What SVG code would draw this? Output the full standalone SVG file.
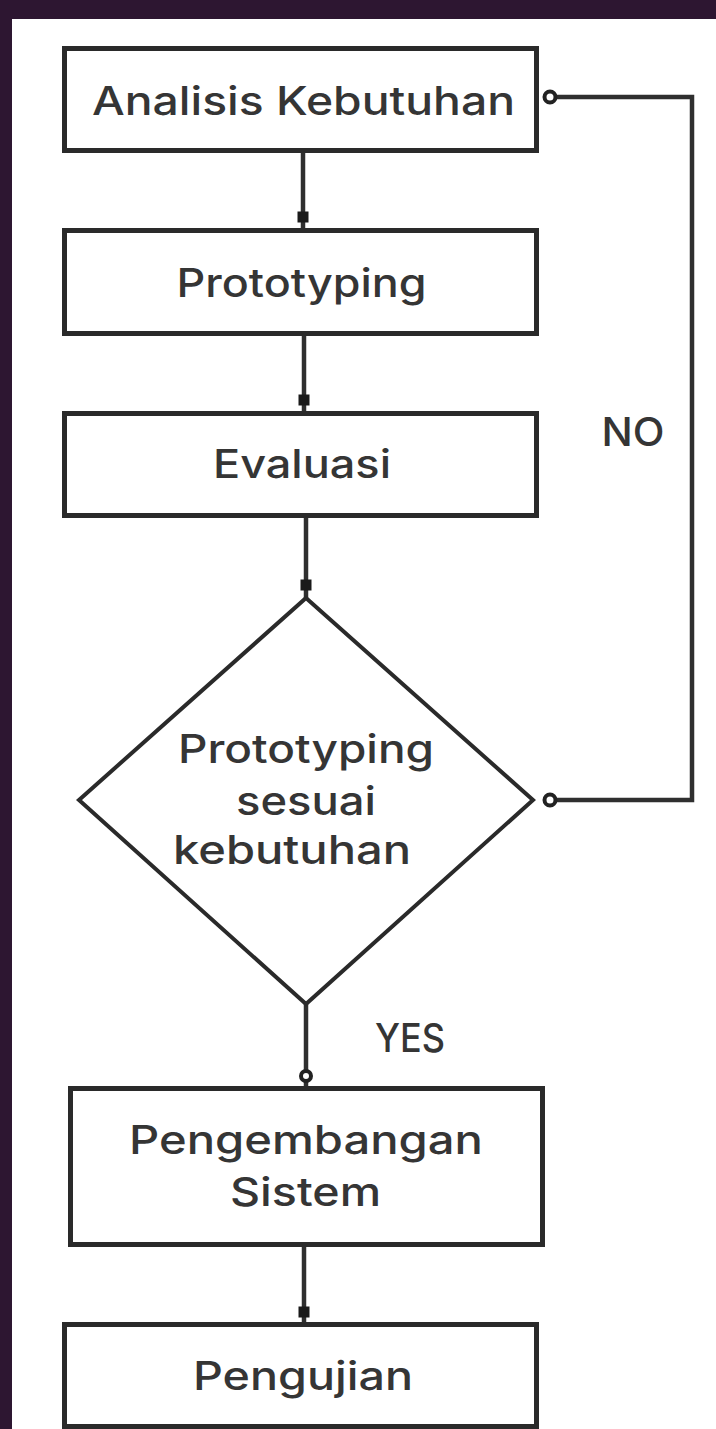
<svg xmlns="http://www.w3.org/2000/svg" width="716" height="1429" viewBox="0 0 716 1429">
<style>
.bg{fill:#2d1631}
.box{fill:#ffffff;stroke:#2a2a2a;stroke-width:5}
.dia{fill:#ffffff;stroke:#2a2a2a;stroke-width:4}
.ln{fill:none;stroke:#2f2f2f;stroke-width:4.5}
.sq{fill:#1a1a1a}
.ci{fill:#ffffff;stroke:#222222;stroke-width:4}
text{font-family:Inter,"Open Sans","Liberation Sans",sans-serif;font-size:39px;font-weight:500;fill:#353535;text-anchor:middle}
</style>
<rect x="0" y="0" width="716" height="1429" fill="#ffffff"/>
<rect class="bg" x="0" y="0" width="716" height="19"/>
<rect class="bg" x="0" y="0" width="12" height="1429"/>

<g id="connectors">
<line class="ln" x1="303" y1="151" x2="303" y2="230"/>
<rect class="sq" x="297.5" y="211.5" width="11" height="11"/>
<line class="ln" x1="304" y1="334" x2="304" y2="413"/>
<rect class="sq" x="298.5" y="394.5" width="11" height="11"/>
<line class="ln" x1="306" y1="517" x2="306" y2="598"/>
<rect class="sq" x="300.5" y="579.5" width="11" height="11"/>
<line class="ln" x1="306" y1="1004" x2="306" y2="1088"/>
<circle class="ci" cx="306" cy="1076" r="5"/>
<line class="ln" x1="304" y1="1246" x2="304" y2="1324"/>
<rect class="sq" x="298.5" y="1306.5" width="11" height="11"/>
<polyline class="ln" points="556,800 692,800 692,97 556,97"/>
<circle class="ci" cx="550" cy="800" r="5.5"/>
<circle class="ci" cx="550" cy="97" r="5.5"/>
<text x="633" y="446" textLength="63" lengthAdjust="spacingAndGlyphs">NO</text>
<text x="410" y="1052" textLength="70" lengthAdjust="spacingAndGlyphs">YES</text>
</g>

<g id="n1">
<rect class="box" x="64.5" y="48.5" width="472" height="102"/>
<text x="303.5" y="115" textLength="423" lengthAdjust="spacingAndGlyphs">Analisis Kebutuhan</text>
</g>
<g id="n2">
<rect class="box" x="64.5" y="230.5" width="472" height="103"/>
<text x="301.5" y="297" textLength="250" lengthAdjust="spacingAndGlyphs">Prototyping</text>
</g>
<g id="n3">
<rect class="box" x="64.5" y="413.5" width="472" height="102"/>
<text x="302" y="478" textLength="178" lengthAdjust="spacingAndGlyphs">Evaluasi</text>
</g>
<g id="n4">
<polygon class="dia" points="306,598 533,800 306,1004 79,800"/>
<text x="306" y="763" textLength="256" lengthAdjust="spacingAndGlyphs">Prototyping</text>
<text x="306" y="815" textLength="140" lengthAdjust="spacingAndGlyphs">sesuai</text>
<text x="292" y="864" textLength="238" lengthAdjust="spacingAndGlyphs">kebutuhan</text>
</g>
<g id="n5">
<rect class="box" x="70.5" y="1088.5" width="472" height="156"/>
<text x="306" y="1154" textLength="354" lengthAdjust="spacingAndGlyphs">Pengembangan</text>
<text x="305.5" y="1206" textLength="151" lengthAdjust="spacingAndGlyphs">Sistem</text>
</g>
<g id="n6">
<rect class="box" x="64.5" y="1324.5" width="472" height="102"/>
<text x="303" y="1390" textLength="220" lengthAdjust="spacingAndGlyphs">Pengujian</text>
</g>
</svg>
